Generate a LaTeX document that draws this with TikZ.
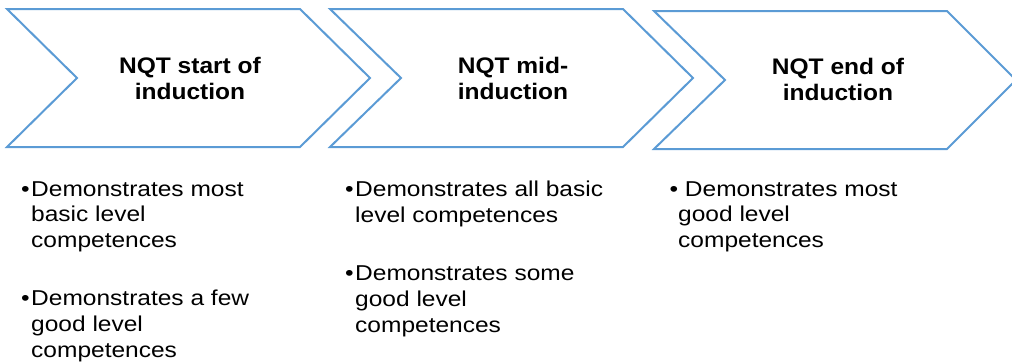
\documentclass[tikz,border=0pt]{standalone}
\usepackage{fontspec}
\setmainfont{Liberation Sans}
\newfontfamily\headfont[FakeStretch=1.09]{Liberation Sans}
\newfontfamily\itemfont[FakeStretch=1.14]{Liberation Sans}
\usepackage{tikz}
\usepackage{xcolor}
\definecolor{chevblue}{RGB}{91,155,213}

\tikzset{
  chevron/.style={draw=chevblue, line width=2pt, line join=miter, fill=white},
  heading/.style={inner sep=0pt, align=center, anchor=base,
    font=\headfont\bfseries\fontsize{22.5}{26}\selectfont},
  bulletitem/.style={inner sep=0pt, align=left, anchor=base west,
    font=\itemfont\fontsize{21.5}{25.7}\selectfont}
}

\begin{document}
\begin{tikzpicture}[x=1pt,y=-1pt]
    \useasboundingbox (0,0) rectangle (1012,362);
    % Stages
    \draw[chevron] (7,9) -- (300,9) -- (370,78) -- (300,147) -- (7,147) -- (77,78) -- cycle;
    \node[heading] (hdstart) at (190,99) {NQT start of\\induction};

    \draw[chevron] (330,9) -- (623,9) -- (693,78) -- (623,147) -- (330,147) -- (401,78) -- cycle;
    \node[heading] (hdmid) at (513,99) {NQT mid-\\induction};

    \draw[chevron] (654,11) -- (947,11) -- (1016,80) -- (947,149) -- (654,149) -- (725,80) -- cycle;
    \node[heading] (hdend) at (838,100) {NQT end of\\induction};

    % Competences (anchored on the last line)
    \node[bulletitem] (bstarta) at (31,247.4) {\llap{\textbullet\hspace{1.5pt}}Demonstrates most\\basic level\\competences};
    \node[bulletitem] (bstartb) at (31,357) {\llap{\textbullet\hspace{1.5pt}}Demonstrates a few\\good level\\competences};

    \node[bulletitem] (bmida) at (355,222.4) {\llap{\textbullet\hspace{1.5pt}}Demonstrates all basic\\level competences};
    \node[bulletitem] (bmidb) at (355,332) {\llap{\textbullet\hspace{1.5pt}}Demonstrates some\\good level\\competences};

    \node[bulletitem] (benda) at (678,247.4) {\llap{\textbullet}\ Demonstrates most\\good level\\competences};
\end{tikzpicture}
\end{document}
